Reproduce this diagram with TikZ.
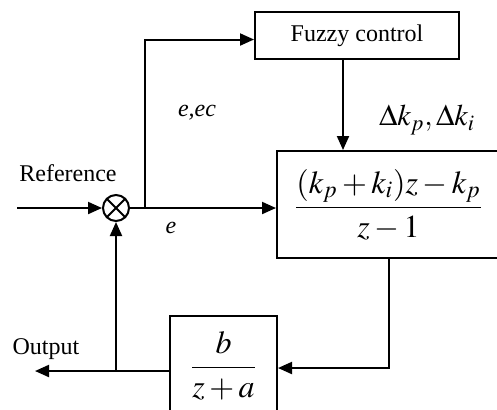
\documentclass[tikz,border=0pt]{standalone}
\usepackage{mathptmx}
\usepackage{fontspec}
\setmainfont{Liberation Serif}
\usepackage{amsmath}
\usetikzlibrary{arrows.meta, positioning, calc}

\begin{document}
\begin{tikzpicture}[
  x=0.5pt, y=-0.5pt,
  line width=1pt,
  block/.style={draw, line width=1pt, inner sep=0pt},
  lbl/.style={font=\fontsize{12}{14}\selectfont},
  mth/.style={font=\fontsize{16}{19}\selectfont},
  arr/.style={-{Triangle[length=7pt, width=6pt]}}
]
  \clip (0,0) rectangle (497,409);

  \node[block, lbl, minimum width=102pt, minimum height=23.5pt] (fuzzy) at (357, 35.5) {Fuzzy control};
  \node[block, mth, minimum width=111.5pt, minimum height=53.5pt] (ctrl) at (388.5, 204.5)
    {$\dfrac{(k_p + k_i)z - k_p}{z-1}$};
  \node[block, mth, minimum width=53.5pt, minimum height=50pt] (plant) at (223.5, 366)
    {$\dfrac{b}{z+a}$};
  \node[draw, circle, minimum size=13pt, inner sep=0pt,
        path picture={\draw (path picture bounding box.south west) -- (path picture bounding box.north east)
                            (path picture bounding box.north west) -- (path picture bounding box.south east);}]
        (sum) at (116, 208) {};

  \coordinate (in)  at (17, 208);
  \coordinate (br)  at (145, 208);
  \coordinate (out) at (35, 371);
  \coordinate (fb)  at (116, 371);

  \draw[arr] (in) -- (sum);
  \draw[arr] (sum) -- (sum -| ctrl.west);
  \draw[arr] (br) |- ([yshift=-2pt]fuzzy.west);
  \draw[arr] ([xshift=-7pt]fuzzy.south) -- ([xshift=-7pt]fuzzy.south |- ctrl.north);
  \draw[arr] (ctrl.south) |- ([yshift=-1pt]plant.east);
  \draw[arr] (plant.west |- out) -- (out);
  \draw[arr] (fb) -- (sum);

  \node[lbl] (ref)  at (68, 173)  {Reference};
  \node[lbl] (err)  at (171, 228) {\textit{e}};
  \node[lbl] (eec)  at (197, 113) {\textit{e,ec}};
  \node[font=\fontsize{15}{18}\selectfont] (dk) at (427, 120) {$\Delta k_p,\Delta k_i$};
  \node[lbl] (outl) at (46, 349)  {Output};
\end{tikzpicture}
\end{document}
